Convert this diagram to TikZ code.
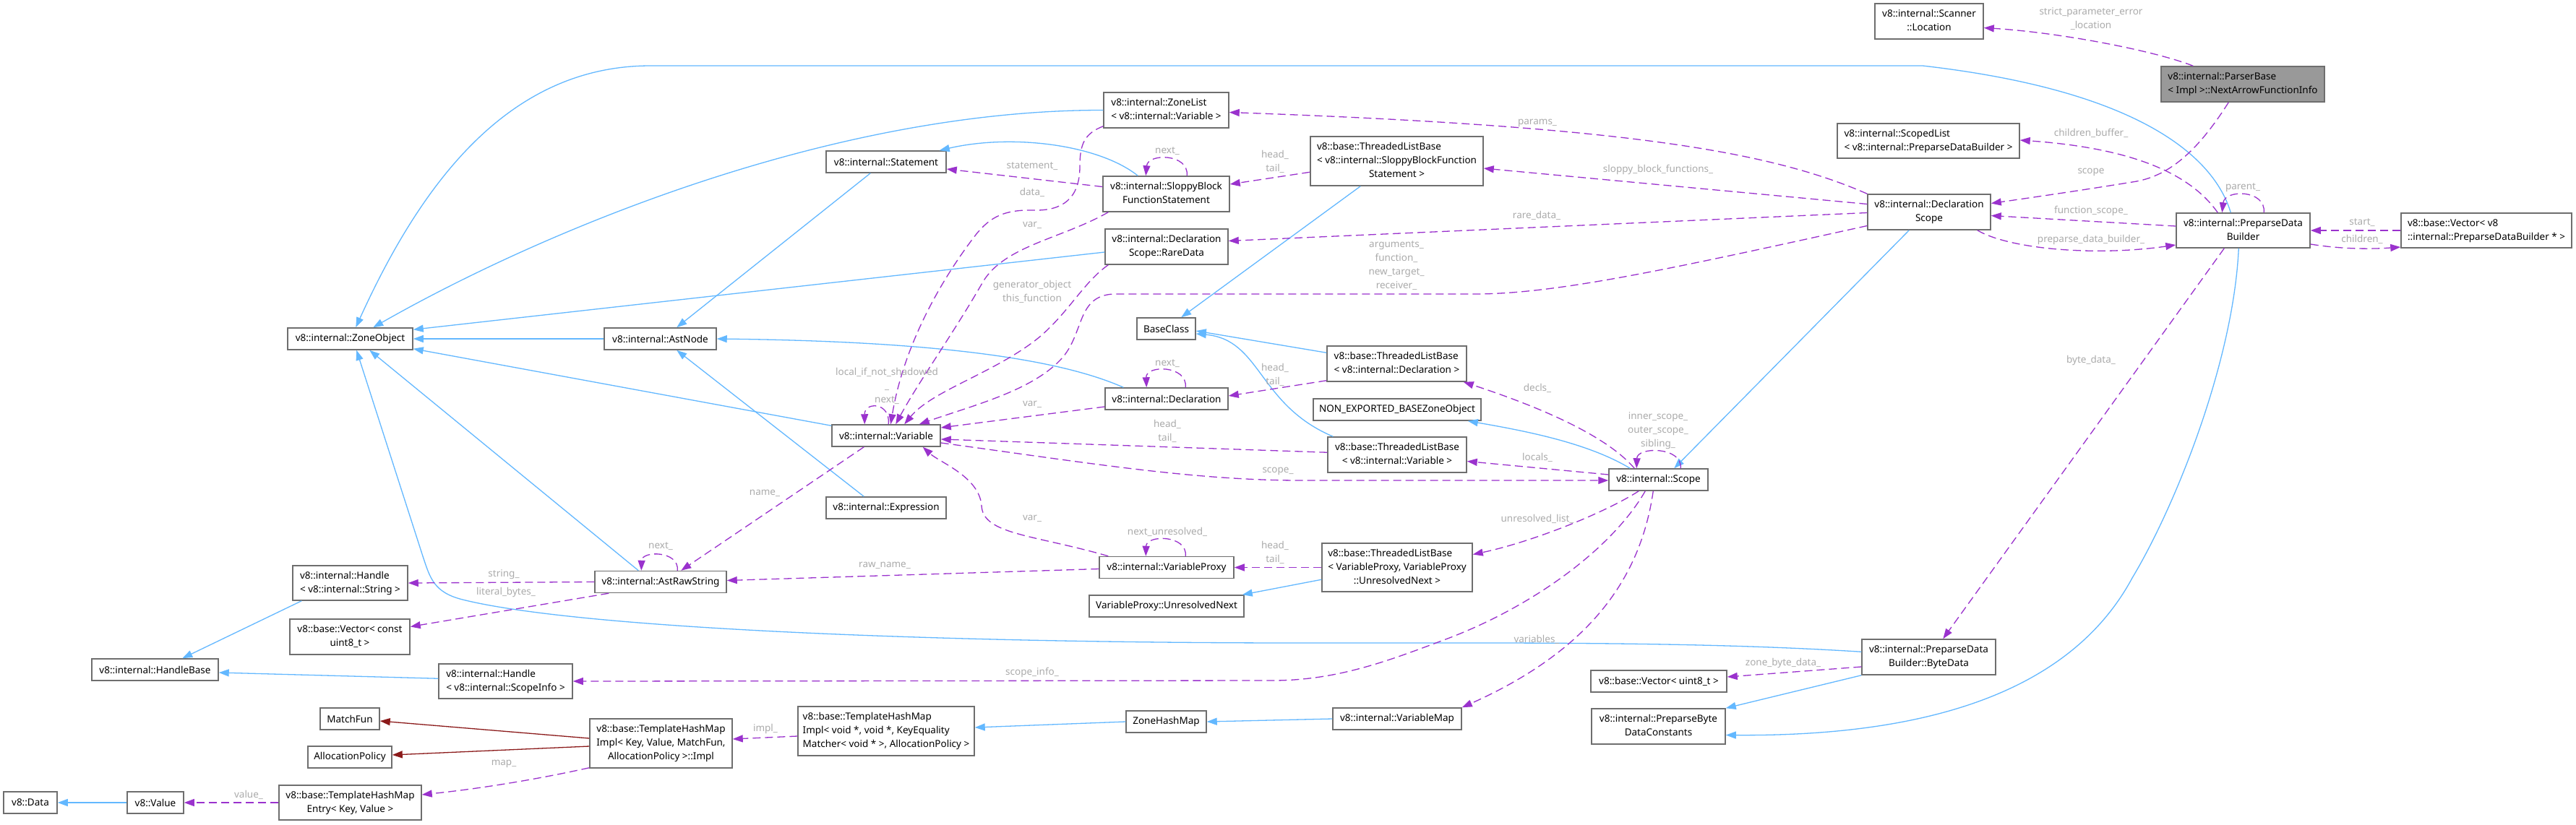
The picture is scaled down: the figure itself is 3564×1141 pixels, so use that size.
\documentclass[tikz,border=0pt]{standalone}
\usepackage{fontspec}
\setmainfont{Noto Sans}
\usetikzlibrary{arrows.meta}
\definecolor{inhc}{HTML}{63B8FF}
\definecolor{usec}{HTML}{9A32CD}
\definecolor{tplc}{HTML}{8B1A1A}
\definecolor{boxc}{HTML}{6E6E6E}
\definecolor{lblc}{HTML}{ABABAB}
\definecolor{hlc}{HTML}{999999}
\newcommand{\twol}[2]{\begin{tabular}{@{}l@{}}#1\\\multicolumn{1}{@{}c@{}}{#2}\end{tabular}}
\newcommand{\threel}[3]{\begin{tabular}{@{}l@{}}#1\\#2\\\multicolumn{1}{@{}c@{}}{#3}\end{tabular}}
\begin{document}
\begin{tikzpicture}[x=1pt,y=-1pt,
  every node/.style={font=\fontsize{13.5}{19}\selectfont},
  cls/.style={draw=boxc, line width=1.5pt, fill=white, inner sep=0pt, text=black},
  inh/.style={draw=inhc, line width=1.3pt, -{Triangle[length=14pt,width=10pt]}},
  use/.style={draw=usec, line width=1.3pt, dash pattern=on 11pt off 6pt, -{Triangle[length=14pt,width=10pt]}},
  tpl/.style={draw=tplc, line width=1.3pt, -{Triangle[length=14pt,width=10pt]}},
  lbl/.style={text=lblc, align=center, inner sep=0pt}]
\useasboundingbox (0,0) rectangle (3564,1141);
\fill[white] (0,0) rectangle (3564,1141);

% ---------- classes ----------
\node[cls, minimum width=150pt, minimum height=49pt] (loc) at (2669,29.5) {\twol{v8::internal::Scanner}{::Location}};
\node[cls, fill=hlc, minimum width=226pt, minimum height=49pt] (pb) at (3103,116.5) {\twol{v8::internal::ParserBase}{< Impl >::NextArrowFunctionInfo}};
\node[cls, minimum width=173pt, minimum height=49pt] (zl) at (1613.5,152.5) {\twol{v8::internal::ZoneList}{< v8::internal::Variable >}};
\node[cls, minimum width=166pt, minimum height=30pt] (st) at (1226,224) {v8::internal::Statement};
\node[cls, minimum width=175pt, minimum height=49pt] (sb) at (1613.5,268.5) {\twol{v8::internal::SloppyBlock}{FunctionStatement}};
\node[cls, minimum width=239pt, minimum height=68pt] (tls) at (1932.5,223) {\threel{v8::base::ThreadedListBase}{< v8::internal::SloppyBlockFunction}{Statement >}};
\node[cls, minimum width=252pt, minimum height=48pt] (spl) at (2668,195) {\twol{v8::internal::ScopedList}{< v8::internal::PreparseDataBuilder >}};
\node[cls, minimum width=170pt, minimum height=49pt] (ds) at (2669,293.5) {\twol{v8::internal::Declaration}{Scope}};
\node[cls, minimum width=185pt, minimum height=48pt] (pdb) at (3103.5,319) {\twol{v8::internal::PreparseData}{Builder}};
\node[cls, minimum width=236pt, minimum height=48pt] (vpdb) at (3440,319) {\twol{v8::base::Vector< v8}{::internal::PreparseDataBuilder * >}};
\node[cls, minimum width=170pt, minimum height=49pt] (rd) at (1614,341.5) {\twol{v8::internal::Declaration}{Scope::RareData}};
\node[cls, minimum width=173pt, minimum height=30pt] (zo) at (484.5,469) {v8::internal::ZoneObject};
\node[cls, minimum width=155pt, minimum height=30pt] (an) at (913.5,469) {v8::internal::AstNode};
\node[cls, minimum width=81pt, minimum height=30pt] (bc) at (1613.5,455) {BaseClass};
\node[cls, minimum width=193pt, minimum height=49pt] (tld) at (1932.5,503.5) {\twol{v8::base::ThreadedListBase}{< v8::internal::Declaration >}};
\node[cls, minimum width=170pt, minimum height=30pt] (decl) at (1614,552) {v8::internal::Declaration};
\node[cls, minimum width=232pt, minimum height=30pt] (neb) at (1933,567) {NON\_EXPORTED\_BASEZoneObject};
\node[cls, minimum width=150pt, minimum height=30pt] (var) at (1226,603) {v8::internal::Variable};
\node[cls, minimum width=192pt, minimum height=49pt] (tlv) at (1933,629.5) {\twol{v8::base::ThreadedListBase}{< v8::internal::Variable >}};
\node[cls, minimum width=137pt, minimum height=30pt] (sc) at (2294.5,664) {v8::internal::Scope};
\node[cls, minimum width=166pt, minimum height=30pt] (ex) at (1226,703) {v8::internal::Expression};
\node[cls, minimum width=208pt, minimum height=67pt] (tlp) at (1933,785.5) {\threel{v8::base::ThreadedListBase}{< VariableProxy, VariableProxy}{::UnresolvedNext >}};
\node[cls, minimum width=186pt, minimum height=30pt] (vp) at (1614,785.5) {v8::internal::VariableProxy};
\node[cls, minimum width=159pt, minimum height=48pt] (hs) at (484.5,807) {\twol{v8::internal::Handle}{< v8::internal::String >}};
\node[cls, minimum width=182pt, minimum height=30pt] (ars) at (914,805.5) {v8::internal::AstRawString};
\node[cls, minimum width=214pt, minimum height=30pt] (un) at (1614,839) {VariableProxy::UnresolvedNext};
\node[cls, minimum width=166pt, minimum height=49pt] (vcu) at (484,881.5) {\twol{v8::base::Vector< const}{uint8\_t >}};
\node[cls, minimum width=185pt, minimum height=49pt] (bd) at (2668.5,909.5) {\twol{v8::internal::PreparseData}{Builder::ByteData}};
\node[cls, minimum width=175pt, minimum height=30pt] (hb) at (214.5,927) {v8::internal::HandleBase};
\node[cls, minimum width=185pt, minimum height=48pt] (hsi) at (699.5,943) {\twol{v8::internal::Handle}{< v8::internal::ScopeInfo >}};
\node[cls, minimum width=188pt, minimum height=30pt] (vu8) at (2295,943) {v8::base::Vector< uint8\_t >};
\node[cls, minimum width=244pt, minimum height=68pt] (thv) at (1226,1012) {\threel{v8::base::TemplateHashMap}{Impl< void *, void *, KeyEquality}{Matcher< void * >, AllocationPolicy >}};
\node[cls, minimum width=82pt, minimum height=30pt] (mf) at (484,995) {MatchFun};
\node[cls, minimum width=111pt, minimum height=30pt] (zhm) at (1613.5,999) {ZoneHashMap};
\node[cls, minimum width=178pt, minimum height=30pt] (vm) at (1933,995) {v8::internal::VariableMap};
\node[cls, minimum width=185pt, minimum height=49pt] (pbdc) at (2294.5,1005.5) {\twol{v8::internal::PreparseByte}{DataConstants}};
\node[cls, minimum width=197pt, minimum height=68pt] (impl) at (914.5,1029) {\threel{v8::base::TemplateHashMap}{Impl< Key, Value, MatchFun,}{AllocationPolicy >::Impl}};
\node[cls, minimum width=116pt, minimum height=30pt] (ap) at (484,1048) {AllocationPolicy};
\node[cls, minimum width=197pt, minimum height=48pt] (ent) at (484.5,1111) {\twol{v8::base::TemplateHashMap}{Entry< Key, Value >}};
\node[cls, minimum width=78pt, minimum height=30pt] (val) at (215,1111) {v8::Value};
\node[cls, minimum width=74pt, minimum height=30pt] (dat) at (42,1111) {v8::Data};

% ---------- inheritance ----------
\draw[inh] ([xshift=76pt]pdb.north west) .. controls (3070,240) and (3000,130) .. (2660,91) -- (900,91) .. controls (700,91) and (580,260) .. ([xshift=95pt]zo.north west);
\draw[inh] (zl.west) .. controls (1150,152) and (750,320) .. ([xshift=119pt]zo.north west);
\draw[inh] ([yshift=-7.5pt]rd.west) -- ([yshift=-3pt]zo.north east);
\draw[inh] (an.west) -- (zo.east);
\draw[inh] ([yshift=-2pt]var.north west) -- ([yshift=2pt]zo.south east);
\draw[inh] ([yshift=-18pt]bd.north west) .. controls (2350,888) and (2100,890) .. (1800,890) .. controls (1300,890) and (800,870) .. (640,830) .. controls (600,820) and (595,800) .. (585,770) -- ([xshift=96pt]zo.south west);
\draw[inh] ([xshift=61pt]ars.north west) -- ([xshift=114pt]zo.south west);
\draw[inh] ([xshift=62pt]st.south west) -- ([xshift=101pt]an.north west);
\draw[inh] ([xshift=26pt]decl.north west) .. controls (1450,490) and (1250,472) .. (an.east);
\draw[inh] ([xshift=53pt]ex.north west) -- ([xshift=101pt]an.south west);
\draw[inh] ([xshift=49pt]sb.north west) .. controls (1520,200) and (1400,185) .. ([xshift=-10pt]st.north east);
\draw[inh] ([xshift=70pt]tls.south west) -- ([xshift=62pt]bc.north west);
\draw[inh] ([yshift=-10pt]tld.north west) -- ([yshift=-3pt]bc.east);
\draw[inh] ([xshift=8pt]tlv.north west) .. controls (1740,560) and (1745,470) .. ([yshift=-7pt]bc.east);
\draw[inh] ([xshift=58pt]ds.south west) -- ([xshift=91pt]sc.north west);
\draw[inh] ([xshift=30pt]sc.north west) .. controls (2200,615) and (2120,598) .. ([xshift=-19pt]neb.south east);
\draw[inh] ([yshift=-51pt]tlp.north west) -- ([xshift=-3pt]un.north east);
\draw[inh] (zhm.west) -- ([yshift=5pt]thv.east);
\draw[inh] (vm.west) -- (zhm.east);
\draw[inh] ([xshift=13pt]hs.south west) -- ([xshift=126pt]hb.north west);
\draw[inh] ([yshift=-21pt]hsi.north west) -- ([yshift=-4pt]hb.east);
\draw[inh] (val.west) -- (dat.east);
\draw[inh] (bd.south west) -- (pbdc.north east);
\draw[inh] ([xshift=87pt]pdb.south west) .. controls (3090,500) and (3010,700) .. (2950,800) .. controls (2880,930) and (2720,1020) .. ([yshift=-12pt]pbdc.east);

% ---------- template ----------
\draw[tpl] ([yshift=7pt]impl.west) -- ([yshift=-3pt]mf.east);
\draw[tpl] ([yshift=-4pt]impl.west) -- ([yshift=3pt]ap.east);

% ---------- usage ----------
\draw[use] ([xshift=45pt]pb.north west) .. controls (2980,70) and (2850,45) .. ([yshift=-9pt]loc.east);
\draw[use] ([xshift=94pt]pb.south west) .. controls (3040,210) and (3000,245) .. (2950,252) .. controls (2870,265) and (2800,275) .. ([yshift=12pt]ds.east);
\draw[use] ([xshift=58pt]pdb.north west) .. controls (3030,240) and (2950,205) .. ([yshift=1pt]spl.east);
\draw[use] ([yshift=6pt]pdb.west) -- ([yshift=-5pt]ds.east);
\draw[use] ([xshift=-19pt]ds.south east) .. controls (2780,345) and (2900,355) .. ([yshift=-20pt]pdb.west);
\draw[use] ([xshift=122pt]pdb.north west) .. controls (3135,262) and (3078,262) .. ([xshift=64pt]pdb.north west);
\draw[use] (vpdb.west) -- (pdb.east);
\draw[use] ([yshift=-19pt]pdb.east) .. controls (3240,345) and (3280,345) .. ([yshift=-23pt]vpdb.west);
\draw[use] ([xshift=67pt]pdb.south west) -- ([xshift=113pt]bd.north west);
\draw[use] (ds.north west) .. controls (2450,210) and (2250,175) .. ([yshift=-3pt]zl.east);
\draw[use] ([yshift=11pt]ds.west) -- ([yshift=-10pt]tls.east);
\draw[use] ([yshift=-1pt]ds.west) -- ([yshift=8pt]rd.east);
\draw[use] ([yshift=-19pt]ds.west) .. controls (2300,375) and (2150,407) .. (2040,407) -- (1540,407) .. controls (1490,410) and (1500,460) .. (1470,495) .. controls (1430,540) and (1350,560) .. ([xshift=-30pt]var.north east);
\draw[use] ([yshift=-50pt]tls.north west) -- ([yshift=13.5pt]sb.east);
\draw[use] ([xshift=117pt]sb.north west) .. controls (1645,212) and (1588,212) .. ([xshift=60pt]sb.north west);
\draw[use] ([yshift=10pt]sb.west) -- ([yshift=-10pt]st.east);
\draw[use] ([yshift=3pt]zl.south west) .. controls (1500,185) and (1494,200) .. (1494,230) .. controls (1494,275) and (1470,292) .. (1430,291) .. controls (1390,290) and (1370,300) .. (1350,325) .. controls (1300,390) and (1250,480) .. ([xshift=82pt]var.north west);
\draw[use] ([xshift=8pt]sb.south west) .. controls (1470,330) and (1390,340) .. (1360,390) .. controls (1320,460) and (1270,530) .. ([xshift=89pt]var.north west);
\draw[use] ([xshift=5pt]rd.south west) .. controls (1500,390) and (1480,430) .. (1440,465) .. controls (1380,515) and (1290,540) .. ([xshift=101pt]var.north west);
\draw[use] ([yshift=-11pt]decl.west) -- ([yshift=11pt]var.east);
\draw[use] ([xshift=112pt]decl.north west) .. controls (1643,505) and (1585,505) .. ([xshift=58pt]decl.north west);
\draw[use] ([yshift=2pt]tld.south west) -- ([yshift=4pt]decl.east);
\draw[use] ([xshift=36pt]sc.north west) .. controls (2220,600) and (2120,560) .. ([xshift=-5pt]tld.south east);
\draw[use] ([yshift=7pt]sc.west) -- ([yshift=-9pt]tlv.east);
\draw[use] ([xshift=100pt]sc.north west) .. controls (2328,618) and (2265,618) .. ([xshift=39pt]sc.north west);
\draw[use] ([yshift=-22pt]tlv.north west) -- ([yshift=-5pt]var.east);
\draw[use] ([yshift=-10pt]var.east) .. controls (1500,640) and (1650,665) .. (1800,665) -- ([yshift=-1pt]sc.west);
\draw[use] ([xshift=45pt]var.south west) -- ([xshift=120pt]ars.north west);
\draw[use] ([xshift=115pt]ars.north west) .. controls (940,762) and (888,762) .. ([xshift=65pt]ars.north west);
\draw[use] ([xshift=13pt]vp.north west) .. controls (1430,740) and (1360,740) .. (1358,700) .. controls (1355,660) and (1300,640) .. ([xshift=-25pt]var.south east);
\draw[use] ([xshift=120pt]vp.north west) .. controls (1643,740) and (1586,740) .. ([xshift=65pt]vp.north west);
\draw[use] (tlp.west) -- (vp.east);
\draw[use] ([yshift=-2pt]vp.west) -- ([yshift=2pt]ars.east);
\draw[use] (ars.west) -- (hs.east);
\draw[use] ([xshift=20pt]ars.south west) -- ([yshift=14pt]vcu.east);
\draw[use] ([xshift=42pt]sc.south west) .. controls (2220,710) and (2120,750) .. ([yshift=18pt]tlp.east);
\draw[use] ([xshift=51pt]sc.south west) .. controls (2230,760) and (2120,840) .. (2000,885) .. controls (1920,915) and (1850,942) .. (1760,942) -- (hsi.east);
\draw[use] ([xshift=62pt]sc.south west) .. controls (2270,800) and (2200,900) .. (vm.north east);
\draw[use] ([yshift=-7pt]thv.west) -- ([yshift=6pt]impl.east);
\draw[use] ([yshift=1pt]impl.south west) .. controls (760,1075) and (680,1090) .. ([yshift=11pt]ent.east);
\draw[use] (ent.west) -- (val.east);
\draw[use] ([yshift=-13.5pt]bd.west) -- ([yshift=6pt]vu8.east);
\draw[use] ([xshift=79pt]var.north west) .. controls (1232,556) and (1196,556) .. ([xshift=46pt]var.north west);

% ---------- labels ----------
\node[lbl] (l1) at (2893,26.5) {strict\_parameter\_error\\\_location};
\node[lbl] (l2) at (2893,184) {children\_buffer\_};
\node[lbl] (l3) at (2893,238) {scope};
\node[lbl] (l4) at (3103,260) {parent\_};
\node[lbl] (l5) at (2893,292) {function\_scope\_};
\node[lbl] (l6) at (2893,332) {preparse\_data\_builder\_};
\node[lbl] (l7) at (3268,308) {start\_};
\node[lbl] (l8) at (3268,331) {children\_};
\node[lbl] (l9) at (2893,499) {byte\_data\_};
\node[lbl] (l10) at (2127,170) {params\_};
\node[lbl] (l11) at (2294,235) {sloppy\_block\_functions\_};
\node[lbl] (l12) at (2126,298) {rare\_data\_};
\node[lbl] (l13) at (1932,368) {arguments\_\\function\_\\new\_target\_\\receiver\_};
\node[lbl] (l14) at (1764,223.5) {head\_\\tail\_};
\node[lbl] (l15) at (1615,209) {next\_};
\node[lbl] (l16) at (1428,230) {statement\_};
\node[lbl] (l17) at (1428,266) {data\_};
\node[lbl] (l18) at (1428,312) {var\_};
\node[lbl] (l19) at (1428,403.5) {generator\_object\\this\_function};
\node[lbl] (l20) at (1227,534) {local\_if\_not\_shadowed\\\_\\next\_};
\node[lbl] (l21) at (1615,503) {next\_};
\node[lbl] (l22) at (1428,560) {var\_};
\node[lbl] (l23) at (1764,518.5) {head\_\\tail\_};
\node[lbl] (l24) at (2127,537) {decls\_};
\node[lbl] (l25) at (2294,596) {inner\_scope\_\\outer\_scope\_\\sibling\_};
\node[lbl] (l26) at (2127,633) {locals\_};
\node[lbl] (l27) at (1615,597) {head\_\\tail\_};
\node[lbl] (l28) at (1768,652) {scope\_};
\node[lbl] (l29) at (1058,683) {name\_};
\node[lbl] (l30) at (914,756) {next\_};
\node[lbl] (l31) at (1428,718) {var\_};
\node[lbl] (l32) at (1615,736) {next\_unresolved\_};
\node[lbl] (l33) at (1764,765) {head\_\\tail\_};
\node[lbl] (l34) at (1224,783) {raw\_name\_};
\node[lbl] (l35) at (697,795) {string\_};
\node[lbl] (l36) at (700,820) {literal\_bytes\_};
\node[lbl] (l37) at (2127,718) {unresolved\_list\_};
\node[lbl] (l38) at (1428,931) {scope\_info\_};
\node[lbl] (l39) at (2126,885) {variables\_};
\node[lbl] (l40) at (1059,1009) {impl\_};
\node[lbl] (l41) at (697,1057) {map\_};
\node[lbl] (l42) at (344,1100) {value\_};
\node[lbl] (l43) at (2467,918) {zone\_byte\_data\_};
\end{tikzpicture}
\end{document}
